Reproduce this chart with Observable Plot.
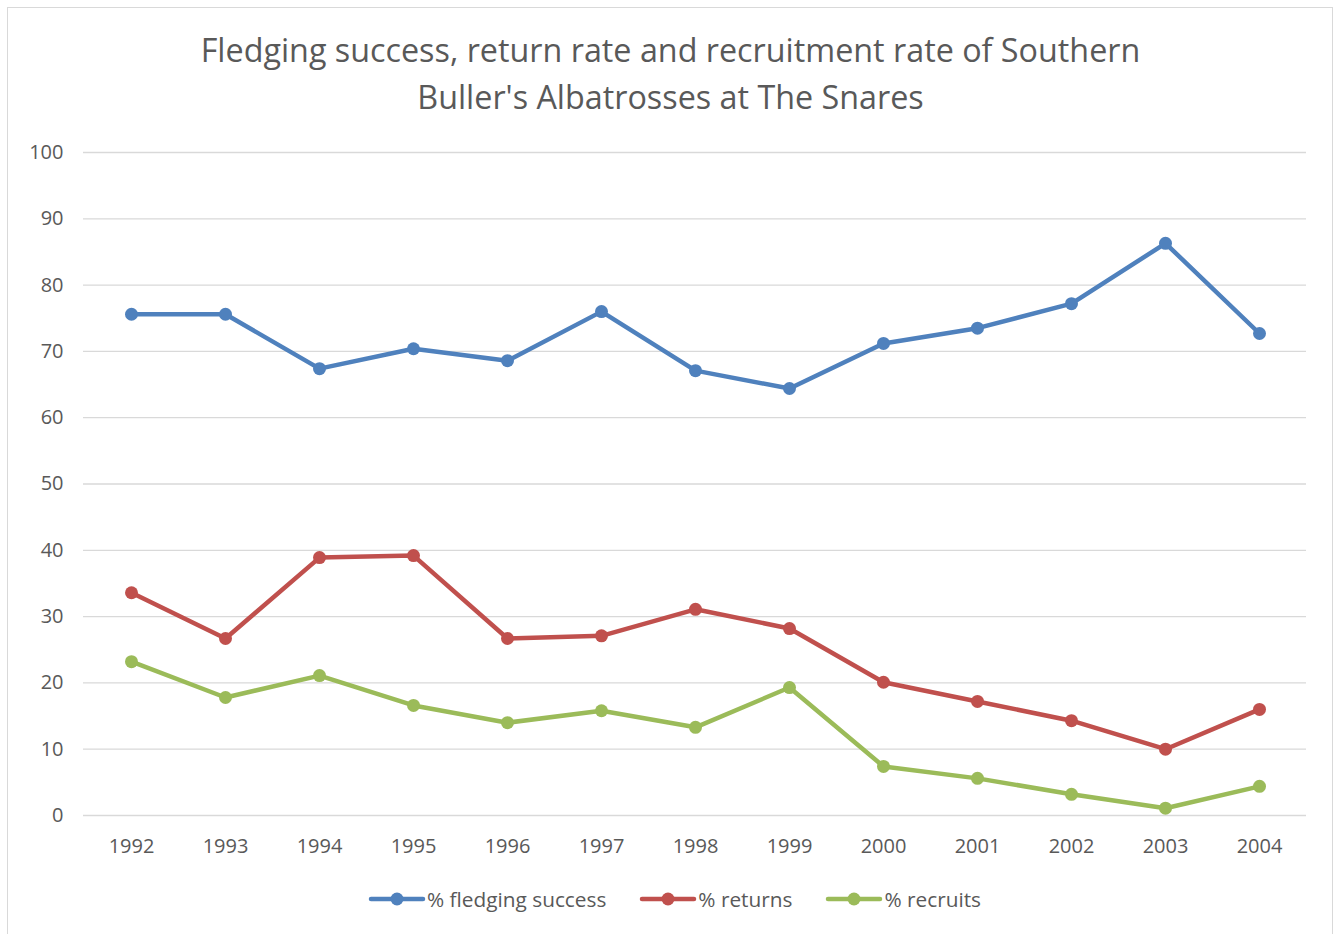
<!DOCTYPE html>
<html>
<head>
<meta charset="utf-8">
<script src="https://cdn.jsdelivr.net/npm/d3@7"></script>
<script src="https://cdn.jsdelivr.net/npm/@observablehq/plot@0.6"></script>
<style>
  body { margin: 0; background: #fff; font-family: "Open Sans", "Noto Sans", sans-serif; }
  #wrap { position: relative; width: 1341px; height: 934px; overflow: hidden; }
  #frame { position: absolute; left: 7px; top: 7px; width: 1326px; height: 940px; border: 1px solid #d9d9d9; box-sizing: border-box; }
  #title { position: absolute; left: 0; width: 1341px; top: 26px; text-align: center; color: #595959; font-size: 32.3px; line-height: 47px; }
  #chart { position: absolute; left: 0; top: 0; }
  #legend { position: absolute; left: 4px; width: 1341px; top: 885px; display: flex; justify-content: center; gap: 33px; color: #595959; font-size: 20.8px; }
  .item { display: flex; align-items: center; }
  .item span { margin-left: 1px; }
</style>
</head>
<body>
<div id="wrap">
  <div id="frame"></div>
  <div id="chart"></div>
  <div id="title">Fledging success, return rate and recruitment rate of Southern<br>Buller's Albatrosses at The Snares</div>
  <div id="legend"></div>
</div>
<script>
const years = ["1992","1993","1994","1995","1996","1997","1998","1999","2000","2001","2002","2003","2004"];
const fledging = [75.6, 75.6, 67.4, 70.4, 68.6, 76.0, 67.1, 64.4, 71.2, 73.5, 77.2, 86.3, 72.7];
const returns  = [33.6, 26.7, 38.9, 39.2, 26.7, 27.1, 31.1, 28.2, 20.1, 17.2, 14.3, 10.0, 16.0];
const recruits = [23.2, 17.8, 21.1, 16.6, 14.0, 15.8, 13.3, 19.3, 7.4, 5.6, 3.2, 1.1, 4.4];
const seriesNames = ["% fledging success", "% returns", "% recruits"];
const seriesColors = ["#4F81BD", "#C0504D", "#9BBB59"];
const yTicks = [0, 10, 20, 30, 40, 50, 60, 70, 80, 90, 100];

const seriesValues = [fledging, returns, recruits];
const data = [];
seriesNames.forEach((s, i) => years.forEach((yr, j) => data.push({series: s, year: yr, value: seriesValues[i][j]})));

const chart = Plot.plot({
  width: 1341,
  height: 870,
  marginLeft: 83,
  marginRight: 35,
  marginTop: 152,
  marginBottom: 55,
  style: { fontFamily: "'Open Sans', 'Noto Sans', sans-serif", fontSize: "20px", color: "#595959", background: "transparent" },
  x: { type: "point", domain: years, padding: 0.5, label: null },
  y: { domain: [0, 100], label: null },
  color: { domain: seriesNames, range: seriesColors },
  marks: [
    Plot.ruleY(yTicks, { stroke: "#d9d9d9", strokeWidth: 1.3 }),
    Plot.axisY(yTicks, { tickSize: 0, tickPadding: 20, label: null, fill: "#595959" }),
    Plot.axisX(years, { tickSize: 0, tickPadding: 23, label: null, fill: "#595959" }),
    Plot.line(data, { x: "year", y: "value", z: "series", stroke: "series", strokeWidth: 4.5, strokeLinejoin: "round", strokeLinecap: "round" }),
    Plot.dot(data, { x: "year", y: "value", fill: "series", r: 6.5, stroke: "none" })
  ]
});
document.getElementById("chart").appendChild(chart);

const legend = document.getElementById("legend");
seriesNames.forEach((s, i) => {
  const d = document.createElement("div");
  d.className = "item";
  d.innerHTML = `<svg width="58" height="16"><line x1="3" y1="8" x2="55" y2="8" stroke="${seriesColors[i]}" stroke-width="4.5" stroke-linecap="round"/><circle cx="29" cy="8" r="6.5" fill="${seriesColors[i]}"/></svg><span>${s}</span>`;
  legend.appendChild(d);
});
</script>
</body>
</html>
